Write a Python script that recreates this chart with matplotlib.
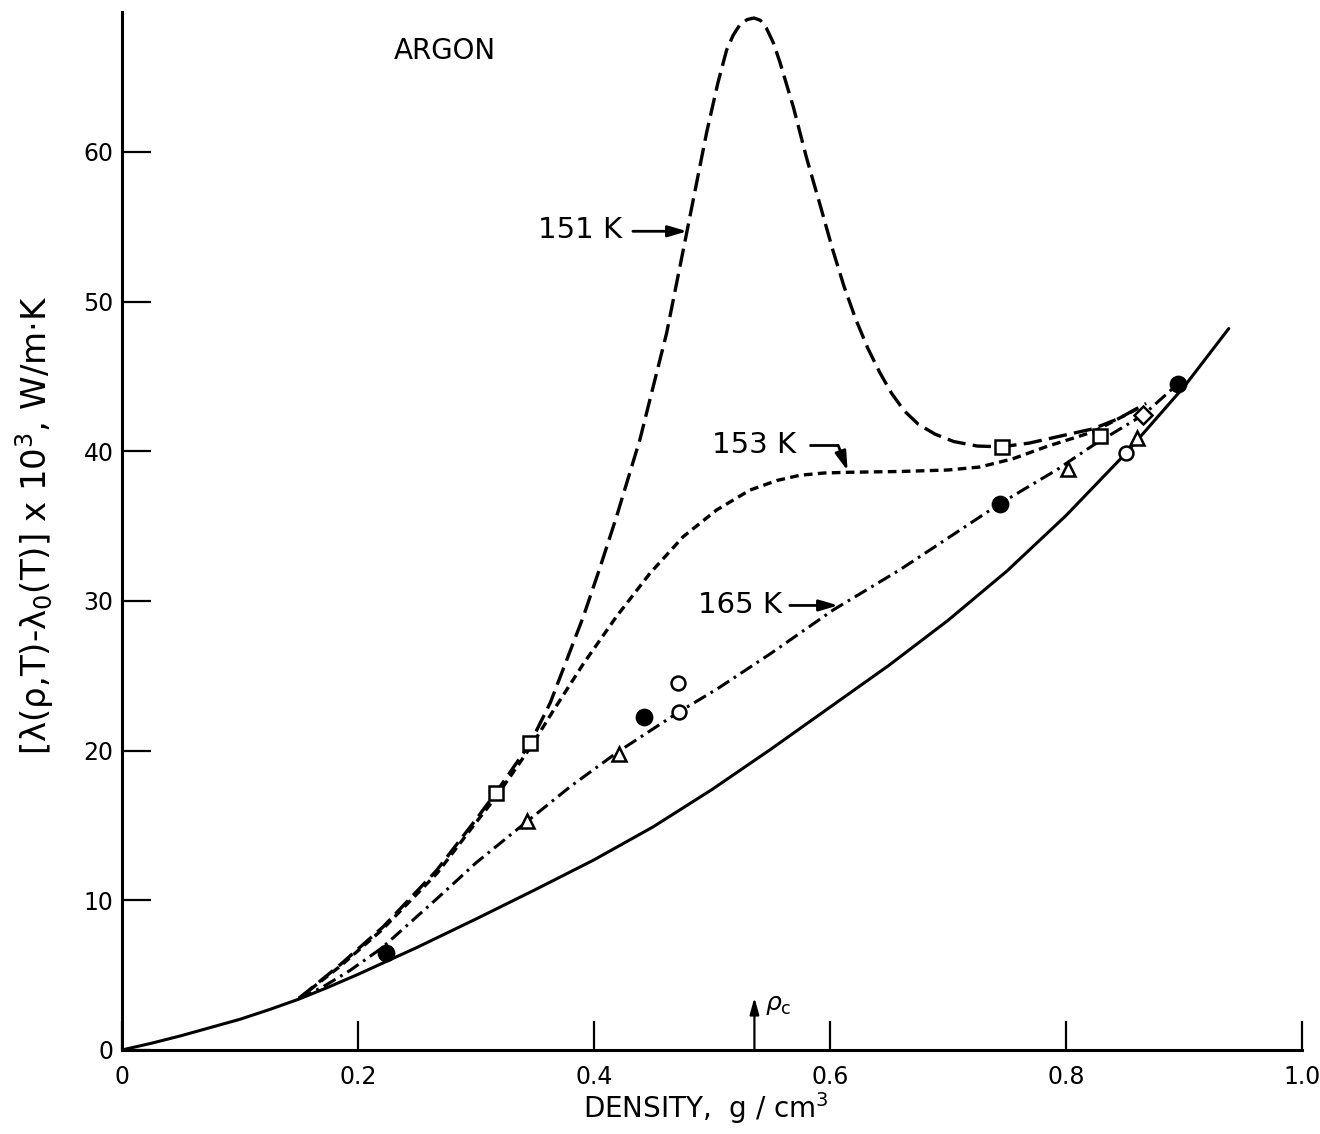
import matplotlib
matplotlib.use("Agg")
import matplotlib.pyplot as plt

plt.rcParams['font.family'] = ['DejaVu Sans']

# ---------------- data ----------------
# background (solid) curve
solid_x = [0.0, 0.025, 0.05, 0.075, 0.10, 0.125, 0.15, 0.175, 0.20, 0.225,
           0.25, 0.30, 0.35, 0.40, 0.45, 0.50, 0.55, 0.60, 0.65, 0.70,
           0.75, 0.80, 0.85, 0.90, 0.938]
solid_y = [0.0, 0.45, 0.95, 1.5, 2.05, 2.7, 3.4, 4.2, 5.05, 5.95,
           6.85, 8.75, 10.7, 12.7, 14.9, 17.4, 20.1, 22.9, 25.7, 28.7,
           32.0, 35.7, 39.8, 44.3, 48.2]

# 151 K (long dashes)
k151_x = [0.15, 0.185, 0.2215, 0.2667, 0.30, 0.317, 0.346, 0.363, 0.391, 0.405,
          0.419, 0.439, 0.4616, 0.4786, 0.4955, 0.505, 0.5124, 0.518, 0.5237,
          0.530, 0.5356, 0.541, 0.546, 0.552, 0.5576, 0.569, 0.5802, 0.5915,
          0.6026, 0.612, 0.622, 0.632, 0.642, 0.652, 0.663, 0.675, 0.689,
          0.705, 0.725, 0.7455, 0.769, 0.80, 0.823, 0.845, 0.868]
k151_y = [3.45, 5.7, 8.24, 12.0, 15.4, 17.2, 20.5, 23.2, 28.95, 32.2,
          35.6, 40.8, 47.9, 54.6, 61.3, 64.6, 66.8, 67.8, 68.5,
          68.85, 68.95, 68.8, 68.3, 67.3, 66.0, 63.0, 59.6, 56.5,
          53.4, 51.0, 48.8, 46.9, 45.3, 43.9, 42.7, 41.8, 41.15,
          40.65, 40.35, 40.3, 40.55, 41.1, 41.5, 42.2, 43.2]

# 153 K (short dashes)
k153_x = [0.15, 0.185, 0.22, 0.267, 0.30, 0.317, 0.346, 0.365, 0.391, 0.419,
          0.4475, 0.4757, 0.504, 0.532, 0.555, 0.5746, 0.595, 0.617, 0.659,
          0.70, 0.727, 0.755, 0.783, 0.823, 0.862]
k153_y = [3.45, 5.6, 8.0, 11.8, 15.2, 16.9, 20.2, 22.6, 25.8, 28.95,
          31.85, 34.3, 36.08, 37.4, 38.05, 38.4, 38.55, 38.6, 38.65,
          38.75, 38.95, 39.5, 40.3, 41.3, 42.9]

# 165 K (dash-dot)
k165_x = [0.15, 0.17, 0.193, 0.22, 0.272, 0.30, 0.343, 0.38, 0.42, 0.4723,
          0.504, 0.55, 0.6028, 0.659, 0.70, 0.744, 0.792, 0.823, 0.8655, 0.8946]
k165_y = [3.45, 4.2, 5.3, 6.8, 10.47, 12.5, 15.25, 17.6, 19.9, 22.6,
          24.1, 26.5, 29.4, 32.07, 34.2, 36.5, 38.75, 40.4, 42.43, 44.48]

# experimental points
sq_x = [0.317, 0.346, 0.7455, 0.829]
sq_y = [17.15, 20.5, 40.3, 41.0]
tri_x = [0.343, 0.421, 0.802, 0.860]
tri_y = [15.3, 19.8, 38.8, 40.9]
oc_x = [0.472, 0.471, 0.851]
oc_y = [22.55, 24.5, 39.9]
fc_x = [0.224, 0.442, 0.744, 0.895]
fc_y = [6.46, 22.23, 36.5, 44.48]
dia_x = [0.8655]
dia_y = [42.43]

x_ticks = [0.0, 0.2, 0.4, 0.6, 0.8, 1.0]
x_ticklabels = ['0', '0.2', '0.4', '0.6', '0.8', '1.0']
y_ticks = [0, 10, 20, 30, 40, 50, 60]
y_ticklabels = ['0', '10', '20', '30', '40', '50', '60']
rho_c = 0.536

# ---------------- figure ----------------
fig = plt.figure(figsize=(13.2, 11.34), dpi=100)
ax = fig.add_axes([0.0924, 0.0741, 0.8939, 0.9153])
ax.set_xlim(0, 1.0)
ax.set_ylim(0, 69.35)

for s in ['top', 'right']:
    ax.spines[s].set_visible(False)
for s in ['left', 'bottom']:
    ax.spines[s].set_linewidth(2.2)

ax.set_xticks(x_ticks)
ax.set_xticklabels(x_ticklabels)
ax.set_yticks(y_ticks)
ax.set_yticklabels(y_ticklabels)
ax.tick_params(axis='both', direction='in', length=21, width=1.6,
               labelsize=17, color='k')
ax.tick_params(axis='x', pad=11)
ax.tick_params(axis='y', pad=6)

ax.plot(solid_x, solid_y, color='k', lw=2.2, solid_capstyle='round',
        solid_joinstyle='round')
ax.plot(k151_x, k151_y, color='k', lw=2.4, ls=(0, (5.5, 2.2)))
ax.plot(k153_x, k153_y, color='k', lw=2.4, ls=(0, (2.6, 1.6)))
ax.plot(k165_x, k165_y, color='k', lw=2.2, ls=(0, (4.5, 1.8, 0.9, 1.8)))

mk = dict(ls='none', color='k', mew=1.8, zorder=5)
ax.plot(sq_x, sq_y, marker='s', ms=10, mfc='white', **mk)
ax.plot(tri_x, tri_y, marker='^', ms=10, mfc='white', **mk)
ax.plot(oc_x, oc_y, marker='o', ms=10, mfc='white', **mk)
ax.plot(fc_x, fc_y, marker='o', ms=11, mfc='black', **mk)
ax.plot(dia_x, dia_y, marker='D', ms=9, mfc='white', **mk)

arrow = dict(arrowstyle='-|>,head_length=0.95,head_width=0.28', lw=2.0,
             color='k', mutation_scale=12, shrinkA=0, shrinkB=0)

ax.text(0.274, 66.75, 'ARGON', fontsize=20, ha='center', va='center')

ax.text(0.388, 54.8, '151 K', fontsize=21, ha='center', va='center')
ax.annotate('', xy=(0.479, 54.7), xytext=(0.433, 54.7), arrowprops=arrow)

ax.text(0.536, 40.4, '153 K', fontsize=21, ha='center', va='center')
ax.plot([0.582, 0.607], [40.4, 40.4], color='k', lw=2.0, solid_capstyle='butt')
ax.annotate('', xy=(0.615, 38.7), xytext=(0.607, 40.4), arrowprops=arrow)

ax.text(0.524, 29.7, '165 K', fontsize=21, ha='center', va='center')
ax.annotate('', xy=(0.607, 29.7), xytext=(0.566, 29.7), arrowprops=arrow)

rarrow = dict(arrowstyle='-|>,head_length=0.9,head_width=0.25', lw=1.6,
              color='k', mutation_scale=11, shrinkA=0, shrinkB=0)
ax.annotate('', xy=(rho_c, 3.5), xytext=(rho_c, 0), arrowprops=rarrow,
            annotation_clip=False)
ax.text(rho_c + 0.009, 3.0, r'$\rho_{\rm c}$', fontsize=18, ha='left', va='center')

fig.text(0.535, 0.023, 'DENSITY,  g / cm$^3$', fontsize=20, ha='center', va='center')
fig.text(0.026, 0.537, r'[λ(ρ,T)-λ$_0$(T)] x 10$^3$, W/m·K', fontsize=24.5,
         rotation=90, ha='center', va='center')

fig.savefig('out.png', dpi=100)
